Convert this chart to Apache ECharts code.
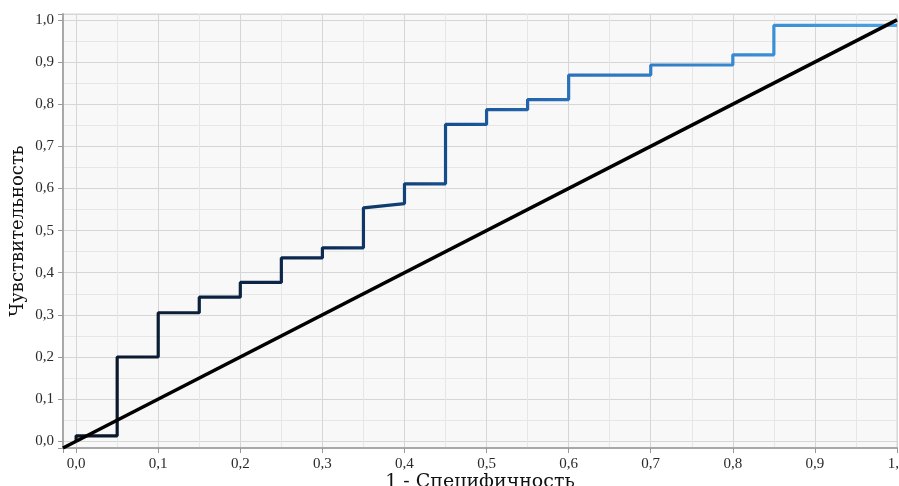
<!DOCTYPE html>
<html>
<head>
<meta charset="utf-8">
<script src="https://cdn.jsdelivr.net/npm/echarts@6/dist/echarts.min.js"></script>
<style>
html,body{margin:0;padding:0;background:#fff;}
#c{width:899px;height:486px;}
</style>
</head>
<body>
<div id="c"></div>
<script>
// ROC step curve: 1 - specificity (x) and sensitivity (y)
const rocX = [0.00, 0.00, 0.05, 0.05, 0.10, 0.10, 0.15, 0.15, 0.20, 0.20, 0.25, 0.25, 0.30, 0.30, 0.35, 0.35, 0.40, 0.40, 0.45, 0.45, 0.50, 0.50, 0.55, 0.55, 0.60, 0.60, 0.70, 0.70, 0.80, 0.80, 0.85, 0.85, 1.00];
const rocY = [0.000, 0.013, 0.013, 0.200, 0.200, 0.305, 0.305, 0.342, 0.342, 0.377, 0.377, 0.435, 0.435, 0.459, 0.459, 0.554, 0.564, 0.611, 0.611, 0.752, 0.752, 0.787, 0.787, 0.811, 0.811, 0.869, 0.869, 0.893, 0.893, 0.917, 0.917, 0.987, 0.987];
// reference diagonal
const diagX = [-0.016, 1.0];
const diagY = [-0.016, 1.0];

const rocData = rocX.map((x, i) => [x, rocY[i]]);
const diagData = diagX.map((x, i) => [x, diagY[i]]);

const fmt = v => (Math.abs(v * 10 - Math.round(v * 10)) < 1e-6 && v >= 0 && v <= 1.0001) ? v.toFixed(1).replace('.', ',') : '';

const chart = echarts.init(document.getElementById('c'), null, {renderer: 'canvas'});
chart.setOption({
  backgroundColor: '#ffffff',
  animation: false,
  grid: {left: 63, top: 14, right: 2, bottom: 38, outerBoundsMode: 'none', containLabel: false, show: true, backgroundColor: '#f8f8f8', borderColor: '#d4d4d4', borderWidth: 1},
  xAxis: {
    type: 'value', min: -0.016, max: 1.0, splitNumber: 10,
    name: '1 - Специфичность', nameLocation: 'middle', nameGap: 25, nameMoveOverlap: false,
    nameTextStyle: {fontFamily: 'DejaVu Serif', fontSize: 19, color: '#111'},
    axisLine: {show: true, onZero: false, lineStyle: {color: '#a8a8a8', width: 2}},
    axisTick: {show: true, length: 5, lineStyle: {color: '#999'}},
    axisLabel: {formatter: fmt, fontFamily: 'Liberation Serif', fontSize: 15, color: '#2a2a2a', margin: 9, showMinLabel: true, showMaxLabel: true},
    splitLine: {show: true, lineStyle: {color: '#d6d6d6', width: 1}},
    minorTick: {show: false, splitNumber: 2},
    minorSplitLine: {show: true, lineStyle: {color: '#e6e6e6', width: 1}}
  },
  yAxis: {
    type: 'value', min: -0.016, max: 1.014, splitNumber: 10,
    name: 'Чувствительность', nameLocation: 'middle', nameGap: 36, nameMoveOverlap: false,
    nameTextStyle: {fontFamily: 'DejaVu Serif', fontSize: 18, color: '#111'},
    axisLine: {show: true, onZero: false, lineStyle: {color: '#a8a8a8', width: 2}},
    axisTick: {show: true, length: 5, lineStyle: {color: '#999'}},
    axisLabel: {formatter: fmt, fontFamily: 'Liberation Serif', fontSize: 15, color: '#2a2a2a', margin: 9},
    splitLine: {show: true, lineStyle: {color: '#d6d6d6', width: 1}},
    minorTick: {show: false, splitNumber: 2},
    minorSplitLine: {show: true, lineStyle: {color: '#e6e6e6', width: 1}}
  },
  series: [
    {
      type: 'line', data: rocData, symbol: 'none', z: 3,
      lineStyle: {
        width: 3.2,
        color: new echarts.graphic.LinearGradient(0, 0, 1, 0, [
          {offset: 0, color: '#0a1526'},
          {offset: 0.3, color: '#0c2a52'},
          {offset: 0.45, color: '#154d8c'},
          {offset: 0.6, color: '#2a70bb'},
          {offset: 0.85, color: '#3a8fd6'},
          {offset: 1, color: '#4aa4e8'}
        ])
      }
    },
    {
      type: 'line', data: diagData, symbol: 'none', z: 4,
      lineStyle: {width: 3.5, color: '#000'}
    }
  ]
});
</script>
</body>
</html>
